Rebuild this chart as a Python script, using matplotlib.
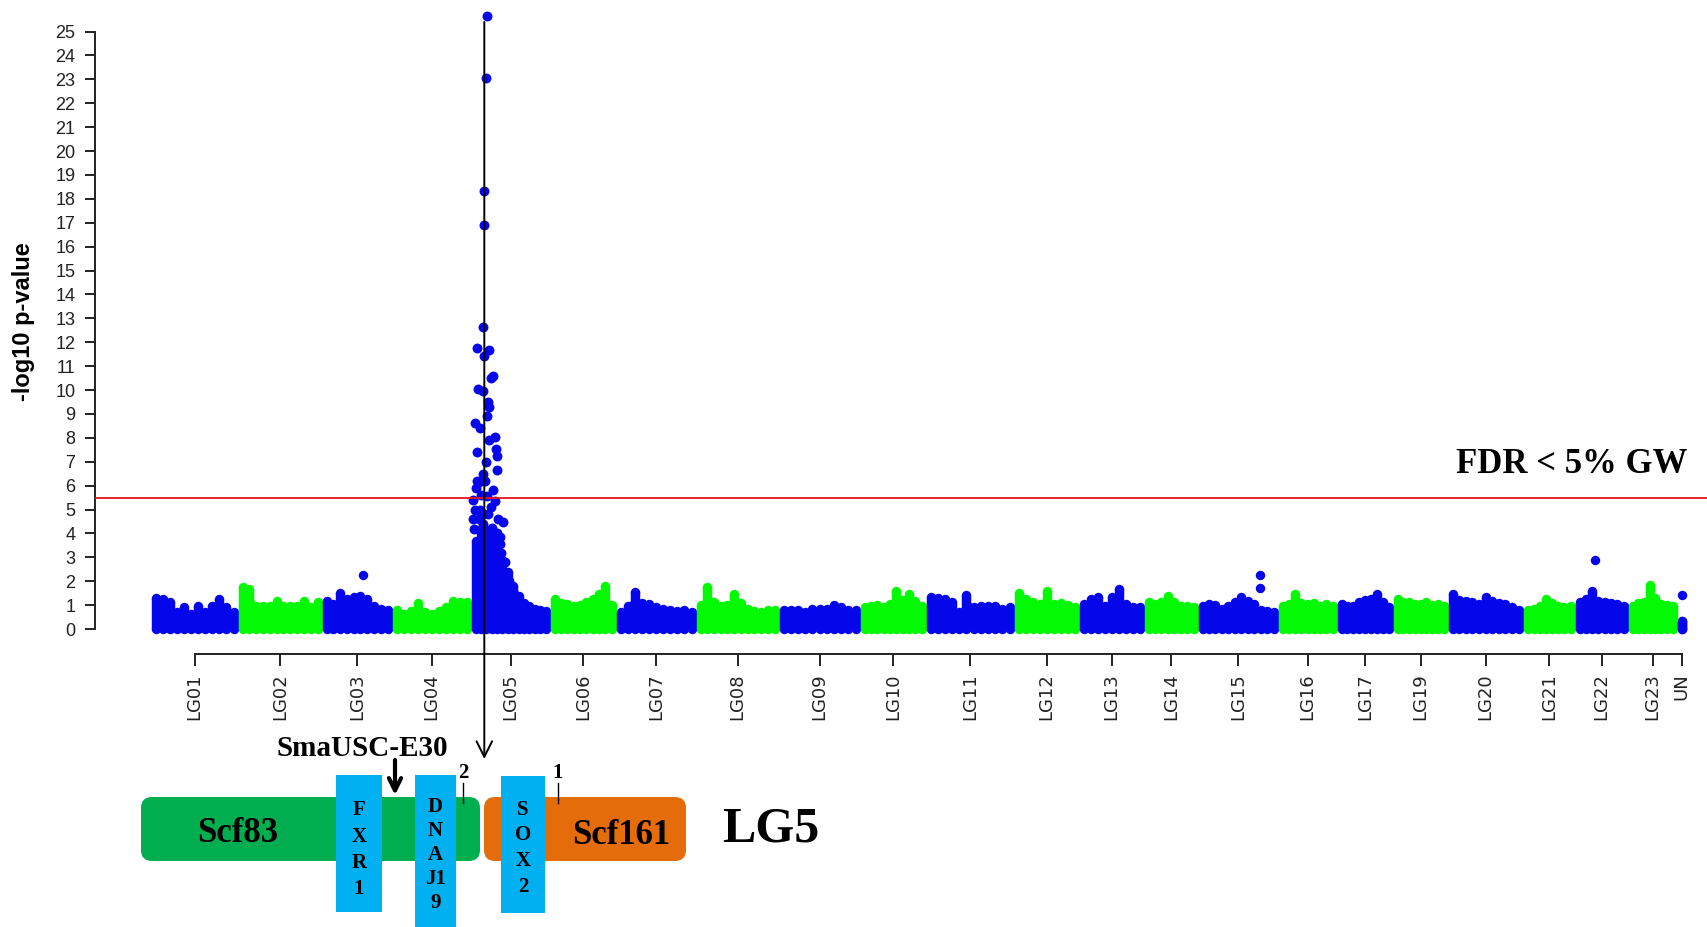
import numpy as np
import matplotlib.pyplot as plt
from matplotlib.patches import FancyBboxPatch, Rectangle

# chromosomes (length in arbitrary genome units)
chrom_names = ["LG01", "LG02", "LG03", "LG04", "LG05", "LG06", "LG07", "LG08",
               "LG09", "LG10", "LG11", "LG12", "LG13", "LG14", "LG15", "LG16",
               "LG17", "LG19", "LG20", "LG21", "LG22", "LG23", "UN"]
chrom_lengths = [87, 84, 70, 79, 79, 66, 80, 83, 81, 66, 88, 65, 65, 54, 80,
                 59, 56, 55, 75, 52, 53, 49, 9]

# upper edge of the dense SNP cloud, left to right along each chromosome (-log10 p)
lg01_top = [1.31, 1.25, 1.12, 0.71, 0.92, 0.64, 0.98, 0.71, 0.98, 1.26, 0.92, 0.70]
lg02_top = [1.75, 1.68, 0.98, 0.98, 0.98, 1.17, 0.98, 0.98, 0.95, 1.19, 0.92, 1.12]
lg03_top = [1.19, 1.05, 1.50, 1.26, 1.33, 1.40, 1.26, 0.98, 0.85, 0.78]
lg04_top = [0.80, 0.64, 0.75, 1.08, 0.70, 0.64, 0.75, 0.90, 1.19, 1.12, 1.12]
lg05_top = [3.70, 4.20, 3.90, 3.70, 3.40, 2.90, 2.40, 1.80, 1.40, 1.10, 0.95, 0.85, 0.80, 0.75]
lg06_top = [1.26, 1.10, 1.05, 0.98, 1.02, 1.12, 1.26, 1.47, 1.78, 1.00]
lg07_top = [0.71, 0.98, 1.54, 1.10, 1.05, 0.90, 0.85, 0.78, 0.75, 0.78, 0.71]
lg08_top = [1.00, 1.75, 1.12, 0.98, 1.00, 1.47, 1.10, 0.85, 0.75, 0.71, 0.78, 0.80]
lg09_top = [0.78, 0.80, 0.80, 0.71, 0.85, 0.85, 0.85, 1.01, 0.90, 0.78, 0.80]
lg10_top = [0.92, 0.95, 1.00, 0.92, 1.05, 1.60, 1.20, 1.47, 1.19, 0.95]
lg11_top = [1.33, 1.30, 1.26, 1.12, 0.71, 1.44, 0.92, 0.98, 0.98, 0.98, 0.85, 0.90]
lg12_top = [1.50, 1.26, 1.12, 1.05, 1.61, 1.05, 1.08, 1.00, 0.90]
lg13_top = [1.05, 1.26, 1.33, 0.98, 1.36, 1.68, 1.05, 0.92, 0.90]
lg14_top = [1.12, 1.05, 1.12, 1.40, 1.12, 0.98, 0.95, 0.90]
lg15_top = [0.98, 1.05, 1.00, 0.85, 0.98, 1.12, 1.33, 1.19, 1.05, 0.78, 0.75, 0.71]
lg16_top = [0.98, 1.05, 1.47, 1.10, 1.05, 1.08, 0.95, 1.05, 0.98]
lg17_top = [1.05, 0.98, 0.98, 1.12, 1.20, 1.26, 1.47, 1.12, 0.90]
lg19_top = [1.26, 1.15, 1.12, 1.05, 1.05, 1.12, 1.00, 1.05, 0.95]
lg20_top = [1.47, 1.20, 1.19, 1.12, 1.05, 1.33, 1.19, 1.10, 1.05, 0.90, 0.78]
lg21_top = [0.78, 0.85, 0.98, 1.26, 1.10, 0.98, 0.92, 0.95]
lg22_top = [1.12, 1.26, 1.61, 1.19, 1.12, 1.10, 1.05, 0.95]
lg23_top = [0.98, 1.10, 1.12, 1.86, 1.30, 1.05, 1.00, 0.98]
un_top = [0.35, 0.35]
cloud_tops = [lg01_top, lg02_top, lg03_top, lg04_top, lg05_top, lg06_top, lg07_top,
              lg08_top, lg09_top, lg10_top, lg11_top, lg12_top, lg13_top, lg14_top,
              lg15_top, lg16_top, lg17_top, lg19_top, lg20_top, lg21_top, lg22_top,
              lg23_top, un_top]

# isolated SNPs above the cloud
single_chrom = ["LG03", "LG15", "LG15", "LG22", "UN"]
single_pos = [40.8, 62.3, 62.3, 19.8, 4.5]
single_logp = [2.27, 2.24, 1.71, 2.89, 1.41]

# LG05 peak SNPs (position within LG05, -log10 p)
peak_pos = [16.3, 15.0, 13.3, 13.3, 12.0, 5.7, 18.3, 13.0, 21.7, 19.7, 7.0, 11.7,
            17.0, 17.7, 16.3, 4.0, 9.0, 24.0, 18.3, 25.0, 5.7, 26.3, 15.0, 25.7,
            11.7, 7.7, 22.3, 16.3, 24.0, 4.0, 17.3, 32.3, 20.7, 29.0, 6.0, 10.0,
            14.0, 20.0, 27.0, 8.0, 12.0, 22.0, 26.0, 3.0, 30.0, 34.0, 38.0, 42.0,
            16.0, 2.0, 4.7, 28.7, 1.5, 9.0, 13.0]
peak_logp = [25.66, 23.06, 18.33, 16.90, 12.63, 11.77, 11.67, 11.44, 10.58, 10.52,
             10.05, 9.97, 9.50, 9.27, 8.92, 8.61, 8.40, 8.05, 7.90, 7.53, 7.39, 7.22,
             7.00, 6.66, 6.48, 6.14, 5.82, 5.58, 5.35, 5.00, 4.83, 4.48, 4.22, 3.87,
             6.20, 5.60, 6.20, 5.10, 4.60, 4.60, 4.40, 3.90, 4.00, 4.20, 3.20, 2.80,
             2.00, 1.60, 4.10, 5.40, 5.90, 3.55, 4.60, 5.00, 4.80]
lead_snp_pos = 13.3
lead_line_top = 25.4
fdr_threshold = 5.5

# LG5 scaffold / gene diagram
scaffold_names = ["Scf83", "Scf161"]
gene_labels = [["F", "X", "R", "1"], ["D", "N", "A", "J1", "9"], ["S", "O", "X", "2"]]
marker_name = "SmaUSC-E30"
bkpt_labels = ["2", "1"]

blue = "#0606ea"
green = "#04fa04"
serif = "Liberation Serif"
sans = "Liberation Sans"

W, H = 1707, 927
fig = plt.figure(figsize=(W / 100, H / 100), dpi=100)
ax = fig.add_axes([95 / W, (H - 640) / H, (W - 95) / W, 630 / H])

starts = np.concatenate([[0], np.cumsum(chrom_lengths)[:-1]])
r = 4.5
dot = 6.8  # marker diameter, points
for i, top in enumerate(cloud_tops):
    col = blue if i % 2 == 0 else green
    top = np.array(top)
    x = np.linspace(starts[i] + r, starts[i] + chrom_lengths[i] - r, len(top))
    ax.fill_between(x, 0, top, color=col, lw=0)
    ax.vlines(x, 0, top, color=col, lw=dot)
    ax.scatter(x, top, s=dot ** 2, color=col, lw=0)
    ax.scatter(x, np.zeros_like(x), s=dot ** 2, color=col, lw=0)

for c, p, v in zip(single_chrom, single_pos, single_logp):
    i = chrom_names.index(c)
    ax.scatter(starts[i] + p, v, s=dot ** 2, color=blue, lw=0)

i5 = chrom_names.index("LG05")
ax.scatter(starts[i5] + np.array(peak_pos), peak_logp, s=dot ** 2 * 1.1,
           color=blue, lw=0, zorder=3)

ax.axhline(fdr_threshold, color="#e8141c", lw=1.3, zorder=4)

ax.set_xlim(-56, W - 151)
ax.set_ylim(-0.46, 25.9)

ax.tick_params(axis="y", length=7.2, width=1.4, pad=7, color="#222222",
               labelsize=13, labelcolor="#222222")
ax.tick_params(axis="x", length=8.6, width=1.4, pad=5.5, color="#222222",
               labelsize=13, labelcolor="#222222", labelrotation=90)

mids = starts + np.array(chrom_lengths) / 2
ax.set_xticks(mids)
ax.set_xticklabels(chrom_names, family=sans)
ax.set_yticks(range(0, 26))
ax.set_yticklabels([str(v) for v in range(0, 26)], family=sans)

for s in ["top", "right"]:
    ax.spines[s].set_visible(False)
ax.spines["left"].set_bounds(0, 25)
ax.spines["left"].set_linewidth(1.4)
ax.spines["left"].set_color("#222222")
ax.spines["bottom"].set_position(("outward", 10))
ax.spines["bottom"].set_bounds(mids[0], mids[-1])
ax.spines["bottom"].set_linewidth(1.4)
ax.spines["bottom"].set_color("#222222")

ax.set_ylabel("-log10 p-value", fontsize=17, fontweight="bold", family=sans)
ax.yaxis.set_label_coords(-0.037, 0.506)

# line from lead SNP down to the diagram
x_lead = starts[i5] + lead_snp_pos
ax.annotate("", xy=(x_lead, H - 759), xycoords=("data", "figure pixels"),
            xytext=(x_lead, lead_line_top), textcoords="data",
            arrowprops=dict(arrowstyle="->", lw=1.4, color="black",
                            mutation_scale=28, shrinkA=0, shrinkB=0),
            annotation_clip=False, zorder=5)

# overlay in pixel coordinates for the diagram
ov = fig.add_axes([0, 0, 1, 1])
ov.set_xlim(0, W)
ov.set_ylim(H, 0)
ov.axis("off")

ov.text(1687, 464, "FDR < 5% GW", ha="right", va="center", fontsize=25,
        fontweight="bold", family=serif)

ov.add_patch(FancyBboxPatch((141, 797), 339, 64,
                            boxstyle="round,pad=0,rounding_size=11",
                            fc="#00ad4f", ec="none"))
ov.add_patch(FancyBboxPatch((484, 797), 202, 64,
                            boxstyle="round,pad=0,rounding_size=11",
                            fc="#e46c0a", ec="none"))
ov.text(238, 834, scaffold_names[0], ha="center", va="center", fontsize=25,
        fontweight="bold", family=serif)
ov.text(621, 835, scaffold_names[1], ha="center", va="center", fontsize=25,
        fontweight="bold", family=serif)
ov.text(771, 829, "LG5", ha="center", va="center", fontsize=36,
        fontweight="bold", family=serif)

gene_boxes = [(336, 775, 46, 137), (415, 775, 41, 152), (501, 776, 44, 137)]
letter_y0 = [810, 807, 810]
letter_step = [26.5, 24, 25.5]
for (gx, gy, gw, gh), letters, y0, dy in zip(gene_boxes, gene_labels,
                                              letter_y0, letter_step):
    ov.add_patch(Rectangle((gx, gy), gw, gh, fc="#00b0f0", ec="none"))
    for k, letter in enumerate(letters):
        ov.text(gx + gw / 2, y0 + dy * k, letter, ha="center", va="center",
                fontsize=15, fontweight="bold", family=serif)

ov.text(362, 748, marker_name, ha="center", va="center", fontsize=21,
        fontweight="bold", family=serif)
ov.annotate("", xy=(395, 795), xytext=(395, 760),
            arrowprops=dict(arrowstyle="->", lw=3, color="black",
                            mutation_scale=22, shrinkA=0, shrinkB=0))

for bx, lab in zip([463, 558], bkpt_labels):
    ov.text(bx, 773, lab, ha="center", va="center", fontsize=15,
            fontweight="bold", family=serif)
    ov.plot([bx, bx], [783, 803], color="black", lw=1)

fig.savefig("out.png", dpi=100)
